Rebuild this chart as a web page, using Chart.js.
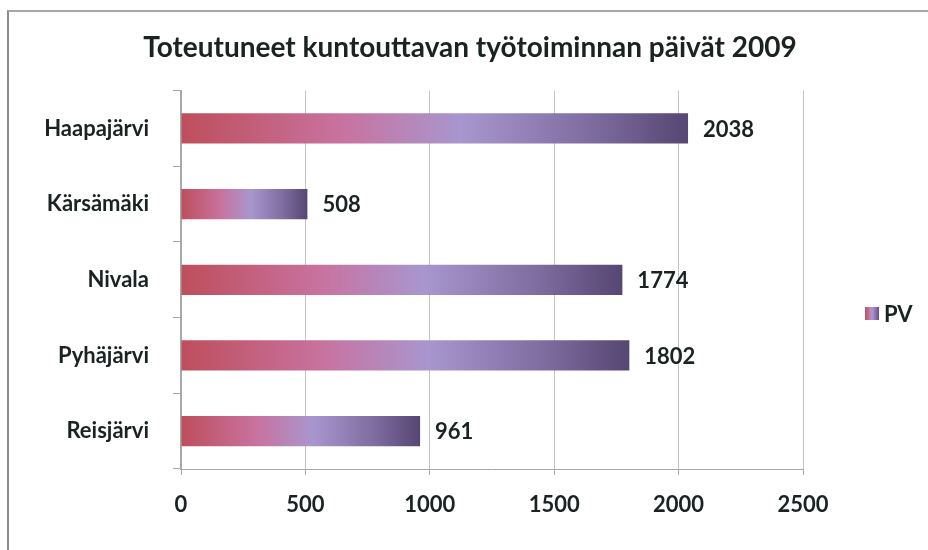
<!DOCTYPE html>
<html>
<head>
<meta charset="utf-8">
<script src="https://cdn.jsdelivr.net/npm/chart.js@4"></script>
<style>
  html, body { margin: 0; padding: 0; background: #fff; }
  #wrap { position: relative; width: 928px; height: 550px; }
  #frame {
    position: absolute; left: 7px; top: 10px; right: -10px; bottom: -10px;
    border-left: 2px solid #8c8c8c; border-top: 2px solid #a8a8a8;
  }
  canvas { position: absolute; left: 0; top: 0; }
</style>
</head>
<body>
<div id="wrap">
  <div id="frame"></div>
  <canvas id="kuntoChart" width="928" height="550"></canvas>
</div>
<script>
// Toteutuneet päivät 2009 per kunta
const kunnat = ['Haapajärvi', 'Kärsämäki', 'Nivala', 'Pyhäjärvi', 'Reisjärvi'];
const paivat = [2038, 508, 1774, 1802, 961];
const sarjanNimi = 'PV';
const xTicks = [0, 500, 1000, 1500, 2000, 2500];

const FONT = 'Lato, "Open Sans", sans-serif';
const TEXT = '#1a2222';

// värit palkin liukuvärissä vasemmalta oikealle
function addStops(g) {
    g.addColorStop(0, 'rgb(190,78,92)');
    g.addColorStop(0.32, 'rgb(200,115,160)');
    g.addColorStop(0.55, 'rgb(168,150,206)');
    g.addColorStop(0.8, 'rgb(128,110,162)');
    g.addColorStop(1, 'rgb(86,70,114)');
    return g;
}

function barGradient(ctx) {
    const chart = ctx.chart;
    if (!chart.chartArea || ctx.raw == null) return 'rgb(168,150,206)';
    const xs = chart.scales.x;
    const x0 = xs.getPixelForValue(0);
    const x1 = xs.getPixelForValue(ctx.raw);
    return addStops(chart.ctx.createLinearGradient(x0, 0, x1, 0));
}

const valueLabels = {
    id: 'valueLabels',
    afterDatasetsDraw(chart) {
        const ctx = chart.ctx;
        const meta = chart.getDatasetMeta(0);
        ctx.save();
        ctx.font = 'bold 22px ' + FONT;
        ctx.fillStyle = TEXT;
        ctx.textAlign = 'left';
        ctx.textBaseline = 'middle';
        meta.data.forEach((bar, i) => {
            ctx.fillText(String(paivat[i]), bar.x + 15, bar.y + 1);
        });
        ctx.restore();
    }
};

const sideLegend = {
    id: 'sideLegend',
    afterDraw(chart) {
        const ctx = chart.ctx;
        const bx = 865, by = 307, bw = 14, bh = 13;
        ctx.save();
        const g = ctx.createLinearGradient(bx, 0, bx + bw, 0);
        g.addColorStop(0, 'rgb(190,78,92)');
        g.addColorStop(0.5, 'rgb(180,150,210)');
        g.addColorStop(1, 'rgb(100,80,140)');
        ctx.fillStyle = g;
        ctx.fillRect(bx, by, bw, bh);
        ctx.font = 'bold 22px ' + FONT;
        ctx.fillStyle = TEXT;
        ctx.textAlign = 'left';
        ctx.textBaseline = 'middle';
        ctx.fillText(sarjanNimi, bx + bw + 5, by + bh / 2 + 1);
        ctx.restore();
    }
};

new Chart(document.getElementById('kuntoChart'), {
    type: 'bar',
    data: {
        labels: kunnat,
        datasets: [{
            label: sarjanNimi,
            data: paivat,
            backgroundColor: barGradient,
            barPercentage: 0.4,
            categoryPercentage: 1.0
        }]
    },
    options: {
        indexAxis: 'y',
        responsive: false,
        animation: false,
        layout: {
            padding: { left: 12, right: 0, top: 0, bottom: 0 }
        },
        plugins: {
            legend: { display: false },
            tooltip: { enabled: false },
            title: {
                display: true,
                text: 'Toteutuneet kuntouttavan työtoiminnan päivät 2009',
                color: TEXT,
                font: { family: FONT, size: 28, weight: 'bold' },
                padding: { top: 31, bottom: 26 }
            }
        },
        scales: {
            x: {
                min: 0,
                max: 2500,
                afterBuildTicks(scale) {
                    scale.ticks = xTicks.map(v => ({ value: v }));
                },
                afterFit(scale) {
                    scale.height = 81;
                },
                grid: {
                    color: '#c4c4c4',
                    tickColor: '#a8a8a8',
                    tickLength: 6
                },
                border: { display: true, color: '#a8a8a8', width: 1 },
                ticks: {
                    color: TEXT,
                    padding: 17,
                    font: { family: FONT, size: 22, weight: 'bold' },
                    callback: v => String(v)
                }
            },
            y: {
                afterFit(scale) {
                    scale.width = 169;
                },
                grid: {
                    drawOnChartArea: false,
                    tickColor: '#a8a8a8',
                    tickLength: 8
                },
                border: { display: true, color: '#a8a8a8', width: 2 },
                ticks: {
                    color: TEXT,
                    padding: 24,
                    font: { family: FONT, size: 22, weight: 'bold' }
                }
            },
            // tyhjä akseli oikealla: jättää tilaa selitteelle
            legendSpace: {
                type: 'linear',
                position: 'right',
                display: true,
                grid: { display: false },
                border: { display: false },
                ticks: { display: false },
                afterFit(scale) {
                    scale.width = 125;
                }
            }
        }
    },
    plugins: [valueLabels, sideLegend]
});
</script>
</body>
</html>
